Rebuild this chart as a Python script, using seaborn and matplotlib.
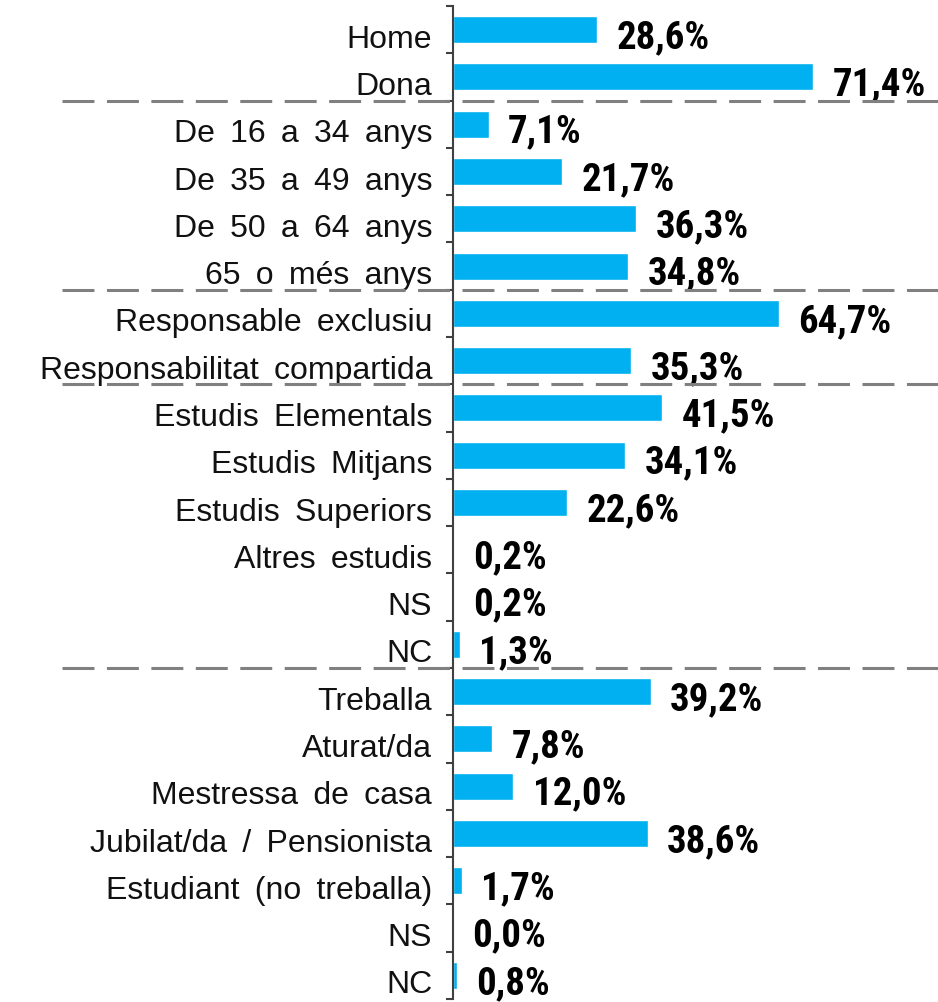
import matplotlib
matplotlib.use("Agg")
import matplotlib.pyplot as plt
import matplotlib.transforms as mtransforms
from matplotlib.lines import Line2D
import seaborn as sns
import pandas as pd

# ----------------------------------------------------------
# Data
# ----------------------------------------------------------
categories = [
    "Home", "Dona",
    "De 16 a 34 anys", "De 35 a 49 anys", "De 50 a 64 anys", "65 o més anys",
    "Responsable exclusiu", "Responsabilitat compartida",
    "Estudis Elementals", "Estudis Mitjans", "Estudis Superiors",
    "Altres estudis", "NS ", "NC ",
    "Treballa", "Aturat/da", "Mestressa de casa", "Jubilat/da / Pensionista",
    "Estudiant (no treballa)", "NS", "NC",
]
values = [
    28.6, 71.4,
    7.1, 21.7, 36.3, 34.8,
    64.7, 35.3,
    41.5, 34.1, 22.6, 0.2, 0.2, 1.3,
    39.2, 7.8, 12.0, 38.6, 1.7, 0.0, 0.8,
]
# group boundaries (index of last row in each group)
group_ends = [1, 5, 7, 13]

df = pd.DataFrame({"cat": categories, "pct": values})

sns.set_style("white")
plt.rcParams["font.family"] = ["Liberation Sans", "DejaVu Sans"]
plt.rcParams["lines.scale_dashes"] = False

fig = plt.figure(figsize=(9.38, 10.03), dpi=100)
ax = fig.add_axes([453 / 938, 3 / 1003, 1 - 453 / 938, 993 / 1003])

sns.barplot(data=df, x="pct", y="cat", orient="h", color="#00B0F0",
            saturation=1, width=0.57, ax=ax)

n = len(categories)
ax.set_xlim(0, 485 / 5.04)
ax.set_ylim(n - 0.5, -0.5)
ax.set_xlabel("")
ax.set_ylabel("")
ax.set_xticks([])

# labels on row centres (wide word spacing as in the original), ticks on boundaries
ax.set_yticks(range(n))
ax.set_yticklabels([c.strip().replace(" ", " \u2009") for c in categories],
                   fontsize=23, color="#111111")
ax.set_yticks([i - 0.5 for i in range(n + 1)], minor=True)
ax.tick_params(axis="y", which="major", length=0, pad=15)
ax.tick_params(axis="y", which="minor", length=5, width=1.5, color="#404040",
               direction="out", left=True)
shift = mtransforms.ScaledTranslation(0, -4 / 72, fig.dpi_scale_trans)
for lab in ax.get_yticklabels():
    lab.set_transform(lab.get_transform() + shift)

for side in ["top", "right", "bottom"]:
    ax.spines[side].set_visible(False)
ax.spines["left"].set_color("#404040")
ax.spines["left"].set_linewidth(1.5)

# value labels
for i, v in enumerate(values):
    ax.annotate(f"{v:.1f}%".replace(".", ","), xy=(v, i), xytext=(14, -5),
                textcoords="offset points", ha="left", va="center",
                fontsize=28, fontweight="bold", color="black",
                family=["Roboto Condensed", "DejaVu Sans"])

# dashed separators between groups
trans = mtransforms.blended_transform_factory(fig.transFigure, ax.transData)
for e in group_ends:
    fig.add_artist(Line2D([0.066, 1.0], [e + 0.5, e + 0.5], transform=trans,
                          color="#808080", linewidth=2.2,
                          linestyle=(0, (23, 9)), clip_on=False))

fig.savefig("out.png", dpi=100)
